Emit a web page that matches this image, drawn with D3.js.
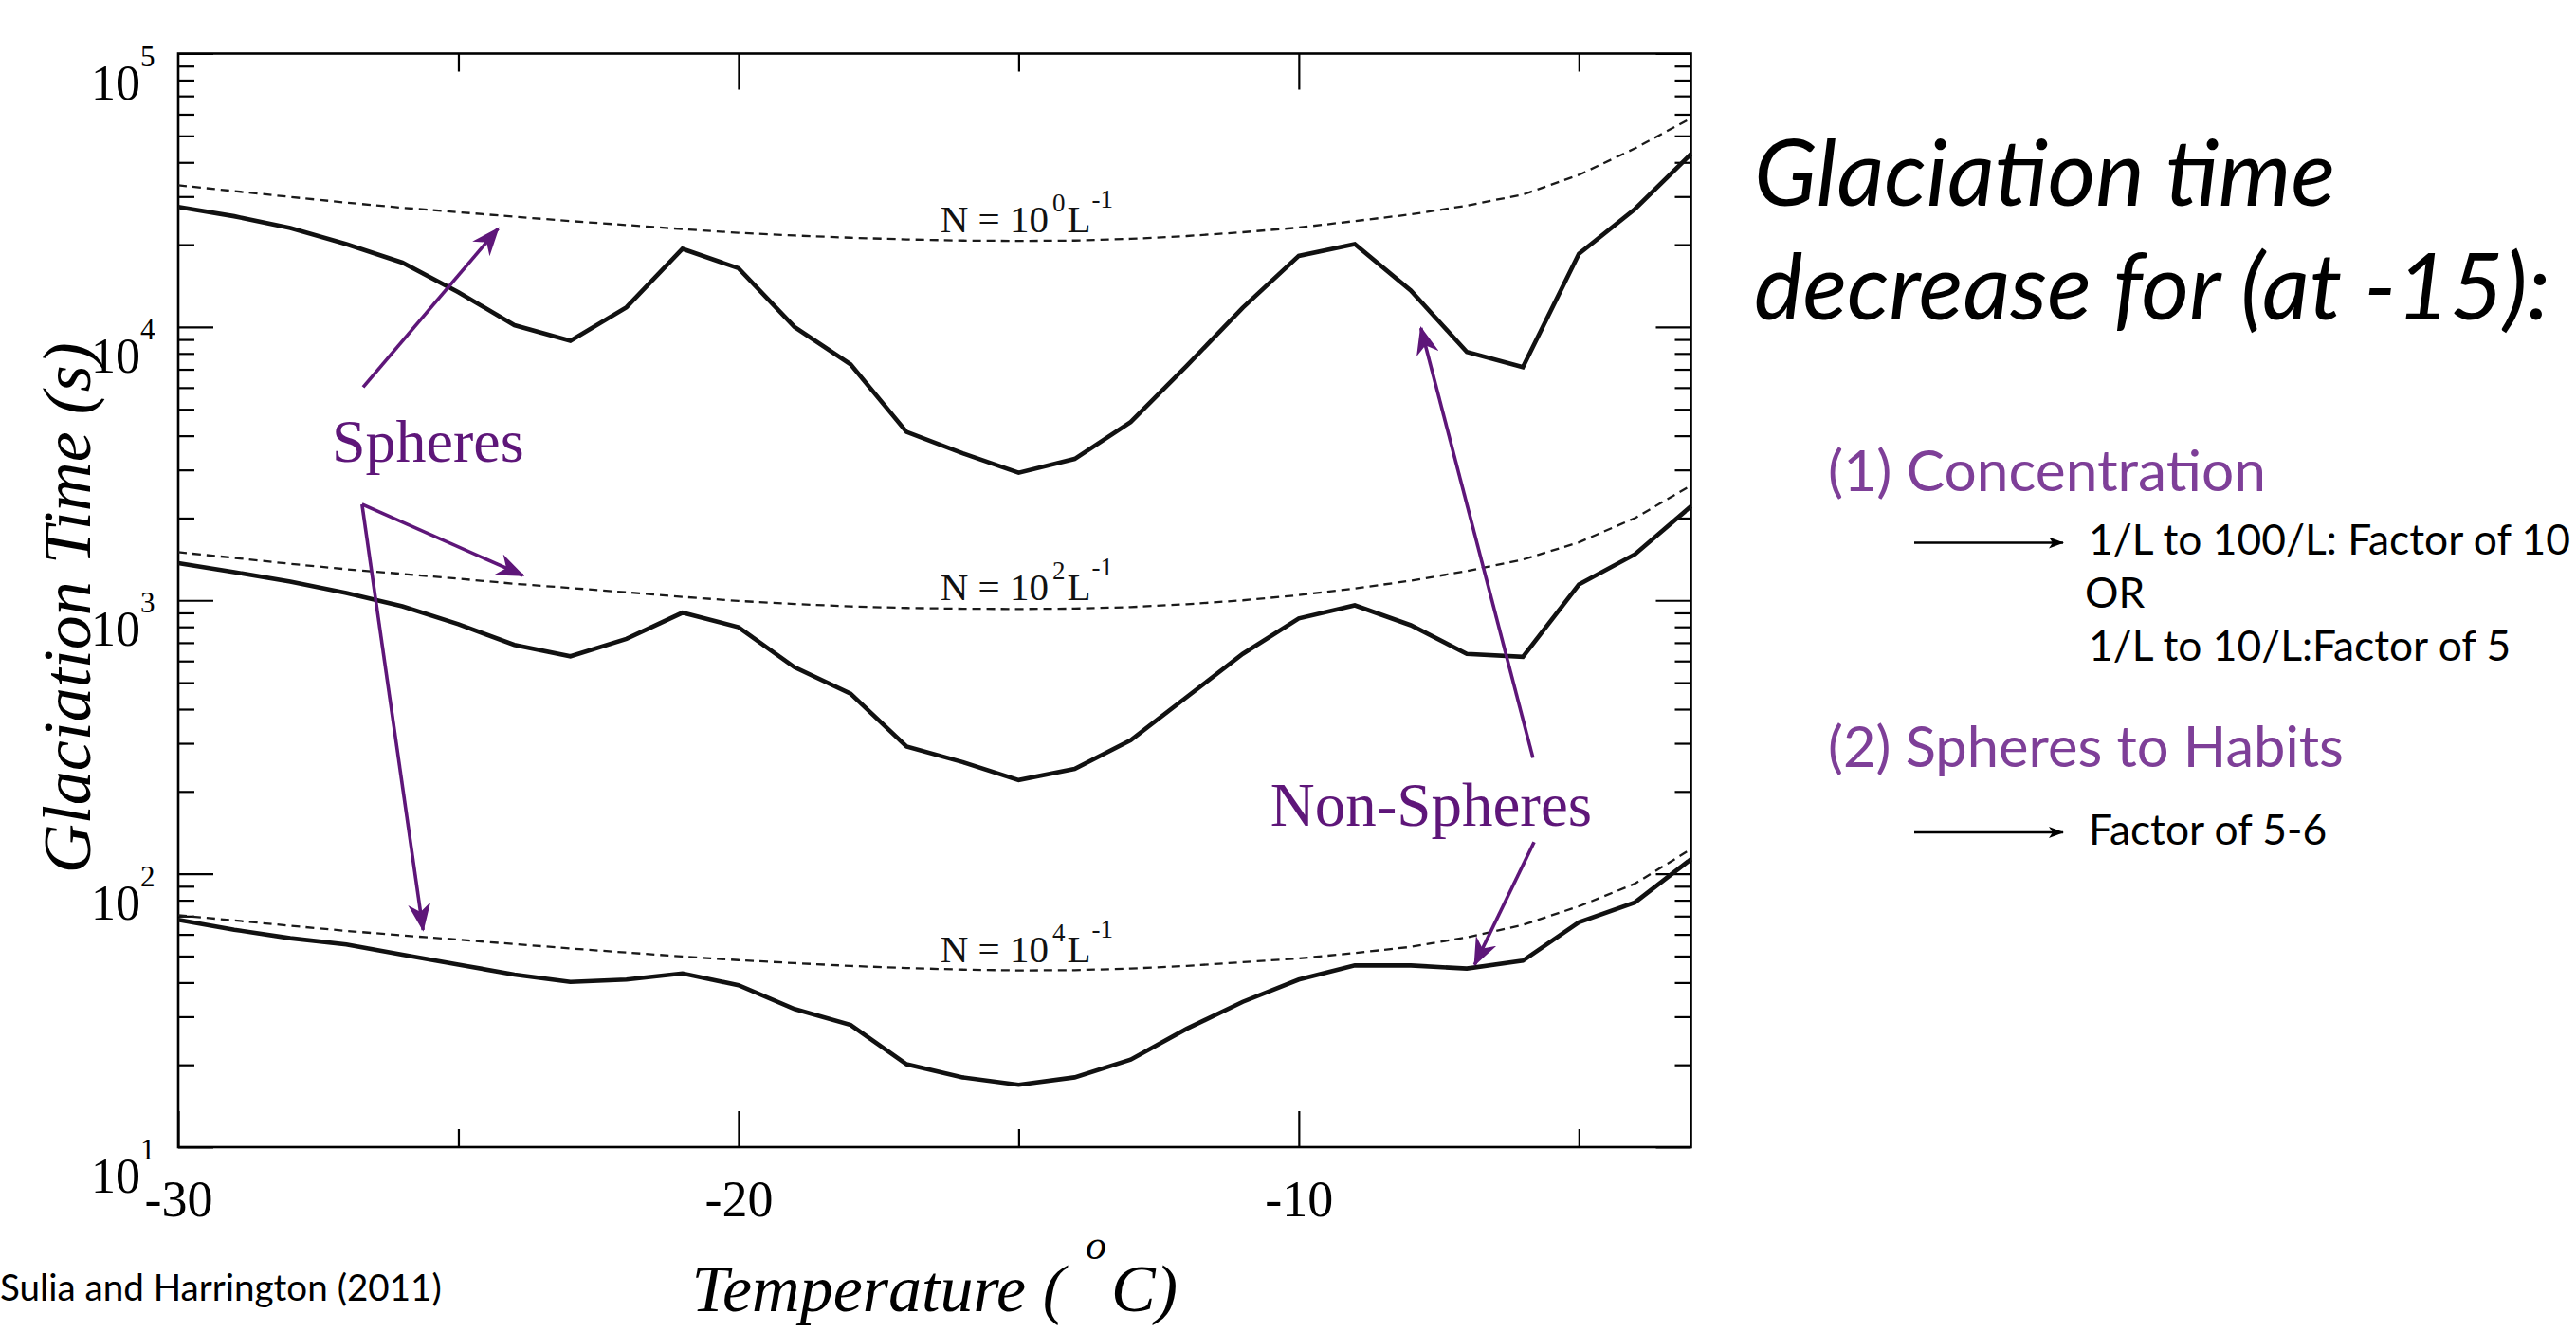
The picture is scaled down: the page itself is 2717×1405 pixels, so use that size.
<!DOCTYPE html>
<meta charset="utf-8">
<style>
body { margin: 0; background: #fff; }
text { font-family: "Liberation Serif", "Times New Roman", serif; }
.sans { font-family: Lato, "Open Sans", sans-serif; }
</style>
<body>
<script src="https://cdn.jsdelivr.net/npm/d3@7"></script>
<script>

var width = 2717,
    height = 1405;

// plot box
var x0 = 188, x1 = 1783.5, yTop = 56.5, yBot = 1210;

// temperature (C)
var temps = [-30,-29,-28,-27,-26,-25,-24,-23,-22,-21,-20,-19,-18,-17,-16,-15,-14,-13,-12,-11,-10,-9,-8,-7,-6,-5,-4,-3];

// glaciation time (s), solid = non-spheres / habits
var solidN0 = [27500,25400,23000,20100,17200,13400,10150,8900,11800,19300,16400,10000,7300,4130,3450,2930,3290,4490,7210,11750,18200,20100,13600,8100,7130,18500,27000,42900];
var solidN2 = [1368,1268,1171,1064,951,818,687,624,723,901,798,569,456,292,256,220,242,308,443,637,859,959,811,637,621,1143,1474,2207];
var solidN4 = [67.8,62.4,58.1,55.1,50.6,46.5,42.8,40.2,41.0,43.2,39.1,32.0,28.0,20.1,18.0,16.9,18.0,20.9,27.1,34.0,41.0,46.2,46.2,45.0,48.1,66.4,78.5,113];

// dotted = spheres
var dotN0 = [33000,31400,29900,28500,27300,26300,25300,24400,23600,22800,22100,21600,21200,20900,20700,20640,20700,21000,21500,22200,23100,24400,25800,27800,30500,36000,45000,58000];
var dotN2 = [1500,1430,1360,1300,1250,1200,1150,1110,1070,1030,995,970,950,938,932,930,933,945,968,1000,1045,1105,1180,1280,1410,1630,2000,2630];
var dotN4 = [70.5,67.5,64.5,61.8,59.5,57.4,55.3,53.3,51.5,49.8,48.3,47.1,46.0,45.2,44.6,44.3,44.4,45.0,46.0,47.5,49.0,51.3,54.0,58.5,65.0,76.0,92.0,123];

var concExp = ["0", "2", "4"];
var labelT = -16.4;

var yDecades = [10, 100, 1000, 10000, 100000];
var yExp = ["1", "2", "3", "4", "5"];
var xMajor = [-30, -20, -10];
var xMinor = [-25, -15, -5];

// annotation arrows [T, value]
var arrows = [
  {from: [-26.70, 6020], to: [-24.29, 22900]},
  {from: [-26.72, 2245], to: [-23.85, 1234]},
  {from: [-26.72, 2245], to: [-25.63, 62.3]},
  {from: [-5.82, 265.5], to: [-7.82, 9913]},
  {from: [-5.80, 130.6], to: [-6.86, 46.5]}
];
var arrowLabels = [
  {text: "Spheres", at: [-27.26, 3227], size: 64},
  {text: "Non-Spheres", at: [-10.51, 150], size: 65}
];

var purple = "#5e1679";
var lightPurple = "#7e3f98";

var svg = d3.select("body").append("svg")
    .attr("width", width)
    .attr("height", height)
    .style("display", "block");

svg.append("rect").attr("width", width).attr("height", height).attr("fill", "#fff");

var defs = svg.append("defs");
defs.append("marker")
    .attr("id", "headP")
    .attr("markerUnits", "userSpaceOnUse")
    .attr("viewBox", "0 0 30 24")
    .attr("refX", 28).attr("refY", 12)
    .attr("markerWidth", 30).attr("markerHeight", 24)
    .attr("orient", "auto")
  .append("path")
    .attr("d", "M0,0 L30,12 L0,24 L9,12 Z")
    .attr("fill", purple);
defs.append("marker")
    .attr("id", "headK")
    .attr("markerUnits", "userSpaceOnUse")
    .attr("viewBox", "0 0 16 12")
    .attr("refX", 15).attr("refY", 6)
    .attr("markerWidth", 16).attr("markerHeight", 12)
    .attr("orient", "auto")
  .append("path")
    .attr("d", "M0,0 L16,6 L0,12 L4,6 Z")
    .attr("fill", "#000");

var x = d3.scaleLinear().domain([-30, -3]).range([x0, x1]);
var y = d3.scaleLog().domain([10, 100000]).range([yBot, yTop]);

var yMinor = [];
yDecades.slice(0, -1).forEach(function(d) {
  d3.range(2, 10).forEach(function(k) { yMinor.push(d * k); });
});

var plotW = x1 - x0, plotH = yBot - yTop;

// ---- axes (ticks point inward on all four sides)
function styleAxis(g) {
  g.select(".domain").remove();
  g.selectAll(".tick line").attr("stroke", "#000").attr("stroke-width", 2.2);
}

svg.append("g").attr("transform", "translate(0," + yBot + ")")
    .call(d3.axisBottom(x).tickValues(xMajor).tickSize(-38).tickSizeOuter(0))
    .call(styleAxis)
    .call(function(g) {
      g.selectAll(".tick text")
          .attr("y", 73).attr("dy", null)
          .attr("font-size", 54)
          .attr("font-family", "Liberation Serif")
          .attr("fill", "#000")
          .text(function(d) { return d; });
    });
svg.append("g").attr("transform", "translate(0," + yBot + ")")
    .call(d3.axisBottom(x).tickValues(xMinor).tickSize(-19).tickFormat(""))
    .call(styleAxis);
svg.append("g").attr("transform", "translate(0," + yTop + ")")
    .call(d3.axisTop(x).tickValues(xMajor.slice(1)).tickSize(-38).tickFormat(""))
    .call(styleAxis);
svg.append("g").attr("transform", "translate(0," + yTop + ")")
    .call(d3.axisTop(x).tickValues(xMinor).tickSize(-19).tickFormat(""))
    .call(styleAxis);

svg.append("g").attr("transform", "translate(" + x0 + ",0)")
    .call(d3.axisLeft(y).tickValues(yDecades).tickSize(-37).tickFormat(""))
    .call(styleAxis);
svg.append("g").attr("transform", "translate(" + x0 + ",0)")
    .call(d3.axisLeft(y).tickValues(yMinor).tickSize(-17).tickFormat(""))
    .call(styleAxis);
svg.append("g").attr("transform", "translate(" + x1 + ",0)")
    .call(d3.axisRight(y).tickValues(yDecades).tickSize(-37).tickFormat(""))
    .call(styleAxis);
svg.append("g").attr("transform", "translate(" + x1 + ",0)")
    .call(d3.axisRight(y).tickValues(yMinor).tickSize(-17).tickFormat(""))
    .call(styleAxis);

// y tick labels 10^n
var yLab = svg.append("g").selectAll("text")
    .data(yDecades)
  .enter().append("text")
    .attr("x", x0 - 92)
    .attr("y", function(d) { return y(d) + 48; })
    .attr("font-size", 52)
    .attr("fill", "#000");
yLab.append("tspan").text("10");
yLab.append("tspan")
    .attr("dy", -35)
    .attr("font-size", 31)
    .text(function(d, i) { return yExp[i]; });

// frame
svg.append("rect")
    .attr("x", x0).attr("y", yTop)
    .attr("width", plotW).attr("height", plotH)
    .attr("fill", "none")
    .attr("stroke", "#000")
    .attr("stroke-width", 2.6);

// ---- curves
var line = d3.line()
    .x(function(d) { return x(d[0]); })
    .y(function(d) { return y(d[1]); });

function pairs(vals) { return temps.map(function(t, i) { return [t, vals[i]]; }); }

[dotN0, dotN2, dotN4].forEach(function(vals) {
  svg.append("path")
      .attr("d", line(pairs(vals)))
      .attr("fill", "none")
      .attr("stroke", "#1a1a1a")
      .attr("stroke-width", 2.3)
      .attr("stroke-dasharray", "9,6");
});

[solidN0, solidN2, solidN4].forEach(function(vals) {
  svg.append("path")
      .attr("d", line(pairs(vals)))
      .attr("fill", "none")
      .attr("stroke", "#111")
      .attr("stroke-width", 4.6)
      .attr("stroke-linejoin", "miter");
});

// N = 10^k L^-1 labels
var iLab = temps.indexOf(-15);
[dotN0, dotN2, dotN4].forEach(function(vals, i) {
  var t = svg.append("text")
      .attr("x", x(labelT))
      .attr("y", y(vals[iLab]) - 9)
      .attr("font-size", 41)
      .attr("fill", "#111");
  t.append("tspan").text("N = 10");
  t.append("tspan").attr("font-size", 27).attr("dx", 4).attr("dy", -22).text(concExp[i]);
  t.append("tspan").attr("font-size", 41).attr("dx", 2).attr("dy", 22).text("L");
  t.append("tspan").attr("font-size", 27).attr("dx", 1).attr("dy", -26).text("-1");
});

// ---- purple annotations
arrows.forEach(function(a) {
  var fx = x(a.from[0]), fy = y(a.from[1]),
      tx = x(a.to[0]), ty = y(a.to[1]);
  svg.append("line")
      .attr("x1", fx).attr("y1", fy)
      .attr("x2", tx).attr("y2", ty)
      .attr("stroke", purple)
      .attr("stroke-width", 3.6)
      .attr("marker-end", "url(#headP)");
});
arrowLabels.forEach(function(l) {
  svg.append("text")
      .attr("x", x(l.at[0]))
      .attr("y", y(l.at[1]))
      .attr("font-size", l.size)
      .attr("fill", purple)
      .text(l.text);
});

// ---- axis titles
svg.append("text")
    .attr("transform", "translate(95," + (yTop + plotH / 2 + 8) + ") rotate(-90)")
    .attr("text-anchor", "middle")
    .attr("font-size", 72)
    .attr("font-style", "italic")
    .attr("fill", "#000")
    .text("Glaciation Time (s)");

var xt = svg.append("text")
    .attr("x", x0 + plotW / 2)
    .attr("y", 1383)
    .attr("text-anchor", "middle")
    .attr("font-size", 70)
    .attr("font-style", "italic")
    .attr("fill", "#000");
xt.append("tspan").text("Temperature (");
xt.append("tspan").attr("font-size", 44).attr("dx", 22).attr("dy", -55).text("o");
xt.append("tspan").attr("font-size", 70).attr("dx", 5).attr("dy", 55).text("C)");

// ---- side notes
function fit(sel, w) {
  var fs = +sel.attr("font-size");
  var len = sel.node().getComputedTextLength();
  sel.attr("font-size", fs * w / len);
  return sel;
}

var title = ["Glaciation time", "decrease for (at -15):"];
var tl1 = svg.append("text").attr("class", "sans")
    .attr("x", 1850).attr("y", 217)
    .attr("font-size", 98).attr("font-style", "italic").attr("fill", "#000")
    .text(title[0]);
var tl2 = svg.append("text").attr("class", "sans")
    .attr("x", 1850).attr("y", 337)
    .attr("font-size", 98).attr("font-style", "italic").attr("fill", "#000")
    .text(title[1]);
fit(tl2, 840);
tl1.attr("font-size", tl2.attr("font-size"));

var heads = ["(1) Concentration", "(2) Spheres to Habits"];
var headY = [518, 809];
var headW = [462, 544];
heads.forEach(function(h, i) {
  fit(svg.append("text").attr("class", "sans")
      .attr("x", 1928).attr("y", headY[i])
      .attr("font-size", 53).attr("fill", lightPurple)
      .text(h), headW[i]);
});

var notes = ["1/L to 100/L: Factor of 10", "OR", "1/L to 10/L:Factor of 5", "Factor of 5-6"];
var noteY = [585, 641, 696.5, 890.5];
var noteX = [2203, 2199, 2203, 2203];
var noteText = notes.map(function(n, i) {
  return svg.append("text").attr("class", "sans")
      .attr("x", noteX[i]).attr("y", noteY[i])
      .attr("font-size", 40).attr("fill", "#000")
      .text(n);
});
// widest line must stay inside the page
fit(noteText[0], width - 6 - noteX[0]);
noteText.forEach(function(t) { t.attr("font-size", noteText[0].attr("font-size")); });

var noteArrows = [572.5, 878];
noteArrows.forEach(function(ay) {
  svg.append("line")
      .attr("x1", 2019).attr("x2", 2176)
      .attr("y1", ay).attr("y2", ay)
      .attr("stroke", "#000")
      .attr("stroke-width", 2.4)
      .attr("marker-end", "url(#headK)");
});

fit(svg.append("text").attr("class", "sans")
    .attr("x", 0).attr("y", 1372)
    .attr("font-size", 38).attr("fill", "#000")
    .text("Sulia and Harrington (2011)"), 466);

</script>
